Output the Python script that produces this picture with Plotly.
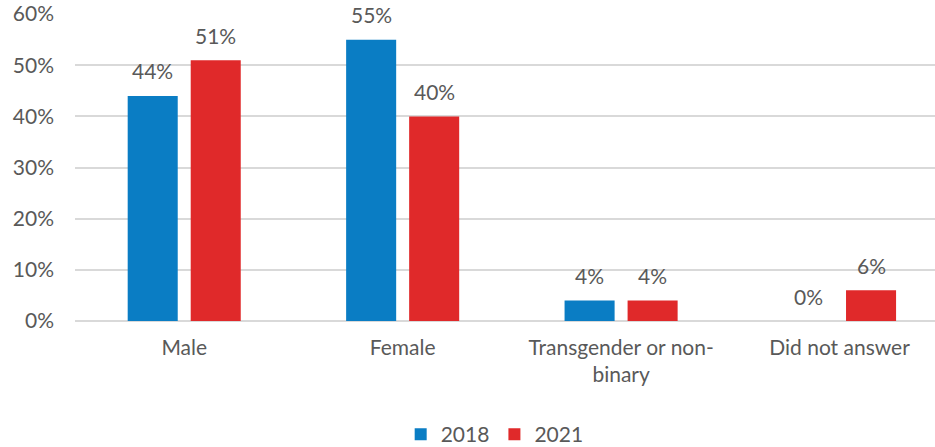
import plotly.graph_objects as go

categories = ["Male", "Female", "Transgender or non-<br>binary", "Did not answer"]
series_names = ["2018", "2021"]
values_2018 = [44, 55, 4, 0]
values_2021 = [51, 40, 4, 6]
y_ticks = [0, 10, 20, 30, 40, 50, 60]
y_tick_labels = ["0%", "10%", "20%", "30%", "40%", "50%", "60%"]

colors = ["#0A7DC4", "#E0292A"]
text_color = "#595959"
font_family = "Lato, 'Open Sans', sans-serif"
FS = 21

fig = go.Figure()
offsets = [-0.144, 0.144]
for i, (name, vals, col) in enumerate(zip(series_names, [values_2018, values_2021], colors)):
    fig.add_trace(go.Bar(
        x=list(range(len(categories))), y=vals, name=name, marker_color=col,
        marker_line_width=0,
    ))
    for j, v in enumerate(vals):
        fig.add_annotation(x=j + offsets[i], y=v, text=f"{v}%", showarrow=False,
                           yanchor="middle", yshift=25,
                           font=dict(size=FS, color=text_color, family=font_family))

fig.update_layout(
    width=935, height=447,
    margin=dict(l=75, r=0, t=14, b=126, autoexpand=False),
    paper_bgcolor="white", plot_bgcolor="white",
    barmode="group", bargap=0.423, bargroupgap=0.206,
    font=dict(family=font_family, size=FS, color=text_color),
    legend=dict(orientation="h", x=0.488, xanchor="center", y=-0.303, yanchor="top",
                font=dict(size=FS, color=text_color),
                traceorder="normal"),
    showlegend=True,
)
fig.update_xaxes(range=[-0.5, 3.437], tickvals=list(range(len(categories))),
                 ticktext=categories, showgrid=False, showline=False, ticks="",
                 automargin=False,
                 ticklabelstandoff=12, tickfont=dict(size=FS, color=text_color))
fig.update_yaxes(range=[0, 60.02], tickvals=y_ticks, ticktext=y_tick_labels,
                 showgrid=True, gridcolor="#D9D9D9", gridwidth=1.5,
                 zeroline=True, zerolinecolor="#D9D9D9", zerolinewidth=1.5,
                 showline=False, ticks="", ticklabelstandoff=20, automargin=False,
                 tickfont=dict(size=FS, color=text_color))

fig.write_html("out.html", config={"displayModeBar": False},
               post_script="document.body.style.margin='0';document.body.style.padding='0';")
